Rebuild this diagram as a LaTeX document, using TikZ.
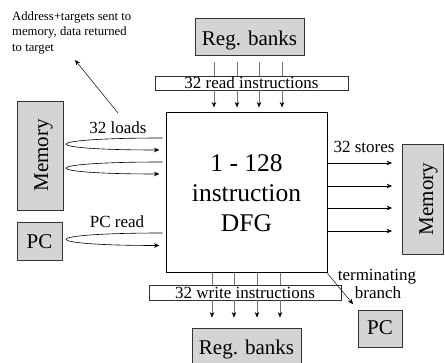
\documentclass[tikz,border=0pt]{standalone}
\usepackage{fontspec}
\setmainfont{Liberation Serif}
\usetikzlibrary{arrows.meta,calc}
\begin{document}
\begin{tikzpicture}[x=1pt,y=-1pt,
  graybox/.style={draw=black!80, fill=black!17, line width=0.8pt, inner sep=0pt,
    font=\fontsize{21}{25}\selectfont, text depth=0pt},
  barbox/.style={draw=black!80, fill=white, line width=0.6pt, inner sep=0pt,
    font=\fontsize{17}{20}\selectfont, text depth=0pt},
  lbl/.style={inner sep=0pt, font=\fontsize{17}{20}\selectfont, anchor=base},
  arr/.style={line width=0.6pt, -{Stealth[length=5.5pt,width=4.5pt,color=black]}},
  feed/.style={draw=black!55, line width=0.6pt}
]
\useasboundingbox (0,0) rectangle (445,363);

% central dataflow graph block
\node[draw=black, line width=1pt, fill=white, minimum width=161pt, minimum height=160pt,
  inner sep=0pt, align=center, font=\fontsize{25.5}{30}\selectfont]
  (dfg) at (246.5,193) {1 - 128\\instruction\\DFG};

% register banks and their instruction bars
\node[graybox, minimum width=109pt, minimum height=37pt, text height=18.4pt] (rbtop) at (249.5,36.5) {Reg. banks};
\node[barbox, minimum width=193pt, minimum height=14pt, text height=10.6pt] (rbar) at (251.5,83) {32 read instructions};
\node[barbox, minimum width=192pt, minimum height=15pt, text height=13pt] (wbar) at (245,292.5) {32 write instructions};
\node[graybox, minimum width=109pt, minimum height=38pt, text height=16pt] (rbbot) at (246.5,347) {Reg. banks};

% memories and program counters
\node[graybox, rotate=90, minimum width=109pt, minimum height=46pt, text height=16pt] (meml) at (40,155.5) {Memory};
\node[graybox, rotate=90, minimum width=110pt, minimum height=41pt, text height=20pt] (memr) at (423,199) {Memory};
\node[graybox, minimum width=45pt, minimum height=38pt, text height=14.6pt] (pcl) at (39.5,241) {PC};
\node[graybox, minimum width=44pt, minimum height=37pt, text height=13pt] (pcr) at (380,328.5) {PC};

% labels
\node[lbl] (loads) at (118,134) {32 loads};
\node[lbl] (pcread) at (117,228) {PC read};
\node[lbl] (stores) at (364,153) {32 stores};
\node[lbl] (term) at (377,280.5) {terminating};
\node[lbl] (branch) at (378,299) {branch};
\node[inner sep=0pt, anchor=north west, align=left, font=\fontsize{12.7}{15.5}\selectfont]
  (addr) at (12,11.3) {Address+targets sent to\\memory, data returned\\to target};

% register reads
\foreach \x in {214,237,259,282} {
  \draw[feed, shorten <=7pt] (rbtop.south -| \x,0) -- (rbar.north -| \x,0);
  \draw[arr, draw=black!55, shorten >=5pt] (rbar.south -| \x,0) -- (dfg.north -| \x,0);
}
% register writes
\foreach \x in {212,234,257,280} {
  \draw[feed] (dfg.south -| \x,0) -- (wbar.north -| \x,0);
  \draw[arr, draw=black!55, shorten >=10pt] (wbar.south -| \x,0) -- (rbbot.north -| \x,0);
}
% stores
\foreach \y in {163,186,208,231} {
  \draw[arr, shorten >=10pt] (dfg.east |- 0,\y) -- (memr.north |- 0,\y);
}
% loads and PC read: request goes out, value comes back
\foreach \ya/\yb in {138/150, 162/174, 233/245.5} {
  \draw[arr, shorten <=3pt, shorten >=6pt] (dfg.west |- 0,\ya)
    .. controls (35,\ya) and (35,\yb) .. (dfg.west |- 0,\yb);
}
% terminating branch to PC
\draw[arr, line width=0.5pt, shorten >=7pt] (dfg.south east) -- (pcr.north west);
% address path to memory
\coordinate (addrfoot) at (118,113);
\coordinate (addrtip) at (75,60);
\draw[arr, line width=0.5pt] (addrfoot) -- (addrtip);
\end{tikzpicture}
\end{document}
